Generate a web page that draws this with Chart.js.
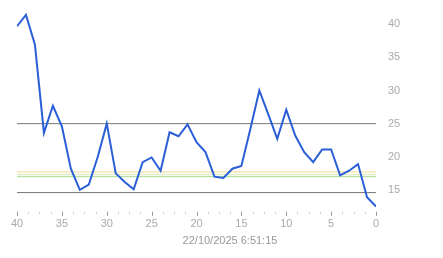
<!DOCTYPE html>
<html>
<head>
<meta charset="utf-8">
<script src="https://cdn.jsdelivr.net/npm/chart.js@4/dist/chart.umd.min.js"></script>
<style>
  html, body { margin: 0; padding: 0; background: #fff; }
  #wrap { width: 443px; height: 258px; }
</style>
</head>
<body>
<div id="wrap"><canvas id="chart" width="443" height="258"></canvas></div>
<script>
// x positions (counting down to 0)
const positions = [40, 39, 38, 37, 36, 35, 34, 33, 32, 31, 30, 29, 28, 27, 26, 25, 24, 23, 22, 21,
  20, 19, 18, 17, 16, 15, 14, 13, 12, 11, 10, 9, 8, 7, 6, 5, 4, 3, 2, 1, 0];

// main series
const readings = [39.7, 41.4, 36.9, 23.6, 27.7, 24.6, 18.2, 15.0, 15.8, 20.0,
  25.0, 17.5, 16.2, 15.1, 19.2, 19.9, 17.9, 23.7, 23.1, 24.9,
  22.2, 20.7, 17.0, 16.8, 18.2, 18.6, 24.2, 30.0, 26.4, 22.7,
  27.1, 23.2, 20.7, 19.2, 21.1, 21.1, 17.2, 17.9, 18.9, 13.9, 12.5];

// horizontal reference levels
const limitLevels = [25, 14.6];
const bandLevels = [17.7, 17.3, 17.0];
const bandColors = ['#f3d98c', '#cfe9b4', '#a9dc92'];

const yTicks = [15, 20, 25, 30, 35, 40];
const stamp = '22/10/2025 6:51:15';

const mainData = positions.map((p, i) => ({ x: p, y: readings[i] }));

function flatLine(level) {
  return [{ x: 0, y: level }, { x: 40, y: level }];
}

const datasets = [{
  data: mainData,
  borderColor: '#2b5fd8',
  borderWidth: 2,
  pointRadius: 0,
  tension: 0,
  order: 0
}];

limitLevels.forEach(l => {
  datasets.push({ data: flatLine(l), borderColor: '#777777', borderWidth: 1, pointRadius: 0, order: 2 });
});
bandLevels.forEach((l, i) => {
  datasets.push({ data: flatLine(l), borderColor: bandColors[i], borderWidth: 1, pointRadius: 0, order: 1 });
});

// small tick marks under the x axis
const minorTicks = {
  id: 'minorTicks',
  afterDraw(chart) {
    const x = chart.scales.x;
    const ctx = chart.ctx;
    const base = chart.chartArea.bottom + 2;
    ctx.save();
    ctx.lineWidth = 1;
    for (let v = 0; v <= 40; v += 1.25) {
      const major = v % 5 === 0;
      const px = Math.round(x.getPixelForValue(v)) + 0.5;
      ctx.strokeStyle = major ? '#999999' : '#c8c8c8';
      ctx.beginPath();
      ctx.moveTo(px, base);
      ctx.lineTo(px, base + (major ? 4 : 2));
      ctx.stroke();
    }
    ctx.restore();
  }
};

new Chart(document.getElementById('chart'), {
  type: 'line',
  data: { datasets: datasets },
  plugins: [minorTicks],
  options: {
    responsive: false,
    animation: false,
    events: [],
    layout: { padding: { left: 17, top: 11, right: 0, bottom: 10 } },
    plugins: {
      legend: { display: false },
      tooltip: { enabled: false },
      title: {
        display: true,
        text: stamp,
        position: 'bottom',
        color: '#999999',
        font: { family: 'Liberation Sans', size: 11, weight: 'normal' },
        padding: { top: 0, bottom: 0 }
      }
    },
    scales: {
      x: {
        type: 'linear',
        reverse: true,
        min: 0,
        max: 40,
        grid: { display: false },
        border: { display: false },
        ticks: {
          stepSize: 5,
          padding: 0,
          color: '#aaaaaa',
          maxRotation: 0,
          font: { family: 'Liberation Sans', size: 11 }
        },
        afterFit(scale) { scale.height = 25; }
      },
      y: {
        position: 'right',
        min: 12,
        max: 42,
        grid: { display: false },
        border: { display: false },
        afterBuildTicks(scale) { scale.ticks = yTicks.map(v => ({ value: v })); },
        ticks: {
          padding: 4,
          color: '#aaaaaa',
          font: { family: 'Liberation Sans', size: 11 }
        },
        afterFit(scale) { scale.width = 67; }
      }
    }
  }
});
</script>
</body>
</html>
